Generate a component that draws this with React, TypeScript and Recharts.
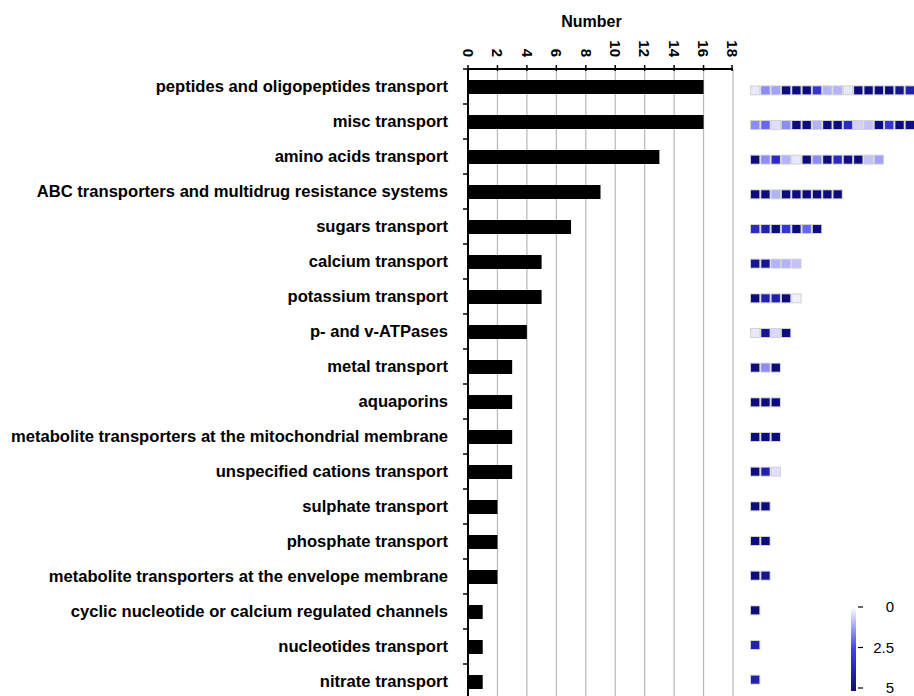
import React from 'react';
import {
  BarChart,
  Bar,
  XAxis,
  YAxis,
  CartesianGrid,
  ScatterChart,
  Scatter,
} from 'recharts';

const categories = [
  'peptides and oligopeptides transport',
  'misc transport',
  'amino acids transport',
  'ABC transporters and multidrug resistance systems',
  'sugars transport',
  'calcium transport',
  'potassium transport',
  'p- and v-ATPases',
  'metal transport',
  'aquaporins',
  'metabolite transporters at the mitochondrial membrane',
  'unspecified cations transport',
  'sulphate transport',
  'phosphate transport',
  'metabolite transporters at the envelope membrane',
  'cyclic nucleotide or calcium regulated channels',
  'nucleotides transport',
  'nitrate transport',
];

const counts = [16, 16, 13, 9, 7, 5, 5, 4, 3, 3, 3, 3, 2, 2, 2, 1, 1, 1];

const numberTicks = [0, 2, 4, 6, 8, 10, 12, 14, 16, 18];

// one value (0..5) per gene in each category row
const heatRows: number[][] = [
  [0.3, 1.5, 1.2, 5, 5, 5, 3, 1, 1, 0.3, 5, 5, 5, 5, 4.5, 4],
  [1.5, 2, 0.4, 1.5, 5, 5, 1, 5, 5, 3.5, 0.6, 0.8, 5, 3, 5, 4.8],
  [5, 1.5, 3.5, 1, 0.3, 5, 1.5, 5, 3.5, 4.8, 5, 0.8, 1.2],
  [5, 5, 1, 5, 5, 5, 5, 5, 5],
  [3.5, 4, 5, 3, 5, 2, 5],
  [4.5, 4.5, 1, 1, 0.8],
  [5, 4, 4, 5, 0.2],
  [0.3, 4.5, 0.5, 5],
  [5, 1.5, 5],
  [5, 5, 5],
  [5, 5, 5],
  [5, 4, 0.4],
  [5, 5],
  [5, 5],
  [5, 4.5],
  [5],
  [4],
  [4],
];

const scaleTicks = ['0', '2.5', '5'];

const barData = categories.map((name, i) => ({ name, count: counts[i] }));
const heatData = heatRows.flatMap((row, r) =>
  row.map((v, c) => ({ col: c + 0.5, row: r, v }))
);

const PLOT_H = 630;
const BAND = PLOT_H / categories.length;
const HEAT_COLS = 16;
const HEAT_W = 165;
const CELL_W = HEAT_W / HEAT_COLS;

function heatColor(v: number) {
  const t = Math.max(0, Math.min(1, v / 5));
  const lo = [255, 255, 255];
  const mid = [64, 64, 235];
  const hi = [12, 12, 125];
  let a = lo, b = mid, k = t * 2;
  if (t > 0.5) {
    a = mid;
    b = hi;
    k = (t - 0.5) * 2;
  }
  const c = a.map((x, i) => Math.round(x + (b[i] - x) * k));
  return `rgb(${c[0]},${c[1]},${c[2]})`;
}

function CategoryTick(props: any) {
  const { x, y, payload, index } = props;
  return (
    <g>
      <text x={x - 20} y={y} dy="0.35em" textAnchor="end" fontWeight="bold" fontSize={16.6} fill="#000">
        {payload.value}
      </text>
      <line x1={x - 5} x2={x} y1={y + BAND / 2} y2={y + BAND / 2} stroke="#000" strokeWidth={1.5} />
      {index === 0 && (
        <line x1={x - 5} x2={x} y1={y - BAND / 2} y2={y - BAND / 2} stroke="#000" strokeWidth={1.5} />
      )}
    </g>
  );
}

function NumberTick(props: any) {
  const { x, y, payload } = props;
  return (
    <g>
      <line x1={x} x2={x} y1={y - 4} y2={y + 2} stroke="#000" strokeWidth={1.5} />
      <text
        transform={`rotate(90 ${x} ${y - 12})`}
        x={x}
        y={y - 12}
        dy="0.35em"
        textAnchor="end"
        fontWeight="bold"
        fontSize={15}
        fill="#000"
      >
        {payload.value}
      </text>
    </g>
  );
}

function HeatCell(props: any) {
  const { cx, cy, payload } = props;
  return (
    <g>
      <rect x={cx - CELL_W / 2} y={cy - 5} width={CELL_W} height={10} fill="#d2d2d2" />
      <rect x={cx - CELL_W / 2 + 1} y={cy - 4} width={CELL_W - 2} height={8} fill={heatColor(payload.v)} />
    </g>
  );
}

function ColorScale() {
  const top = 12;
  const bottom = 93;
  return (
    <svg width={74} height={101} style={{ position: 'absolute', left: 840, top: 595 }}>
      <defs>
        <linearGradient id="heatScale" x1="0" y1="0" x2="0" y2="1">
          <stop offset="0%" stopColor={heatColor(0)} />
          <stop offset="50%" stopColor={heatColor(2.5)} />
          <stop offset="100%" stopColor={heatColor(5)} />
        </linearGradient>
      </defs>
      <rect x={11} y={top} width={5} height={bottom - top + 3} fill="url(#heatScale)" />
      {scaleTicks.map((t, i) => {
        const ty = top + ((bottom - top) * i) / (scaleTicks.length - 1);
        return (
          <g key={t}>
            <line x1={18} x2={23} y1={ty} y2={ty} stroke="#000" strokeWidth={1.2} />
            <text x={54} y={ty} dy="0.35em" textAnchor="end" fontSize={15} fill="#000">
              {t}
            </text>
          </g>
        );
      })}
    </svg>
  );
}

export default function App() {
  return (
    <div
      style={{
        position: 'absolute',
        left: 0,
        top: 0,
        width: 914,
        height: 696,
        overflow: 'hidden',
        background: '#fff',
        fontFamily: '"Liberation Sans", Arial, sans-serif',
      }}
    >
      <div style={{ position: 'absolute', left: 0, top: 0 }}>
        <BarChart
          width={740}
          height={700}
          data={barData}
          layout="vertical"
          margin={{ top: 9, right: 7, bottom: 1, left: 0 }}
        >
          <CartesianGrid horizontal={false} stroke="#b8b8b8" strokeWidth={1.2} />
          <XAxis
            type="number"
            orientation="top"
            domain={[0, 18]}
            ticks={numberTicks}
            height={60}
            tickSize={0}
            tickMargin={0}
            tickLine={false}
            axisLine={{ stroke: '#000', strokeWidth: 2 }}
            tick={<NumberTick />}
            label={{ value: 'Number', position: 'insideTop', offset: 7, dx: -9, fontWeight: 'bold', fontSize: 16, fill: '#000' }}
          />
          <YAxis
            type="category"
            dataKey="name"
            width={468}
            tickSize={0}
            tickMargin={0}
            tickLine={false}
            interval={0}
            axisLine={{ stroke: '#000', strokeWidth: 2 }}
            tick={<CategoryTick />}
          />
          <Bar dataKey="count" fill="#000" barSize={14} isAnimationActive={false} />
        </BarChart>
      </div>
      <div style={{ position: 'absolute', left: 750, top: 73 }}>
        <ScatterChart width={HEAT_W} height={624} margin={{ top: 0, right: 0, bottom: 0, left: 0 }}>
          <XAxis type="number" dataKey="col" domain={[0, HEAT_COLS]} hide />
          <YAxis type="number" dataKey="row" domain={[-0.5, categories.length - 0.5]} reversed hide />
          <Scatter data={heatData} shape={<HeatCell />} isAnimationActive={false} />
        </ScatterChart>
      </div>
      <ColorScale />
    </div>
  );
}
